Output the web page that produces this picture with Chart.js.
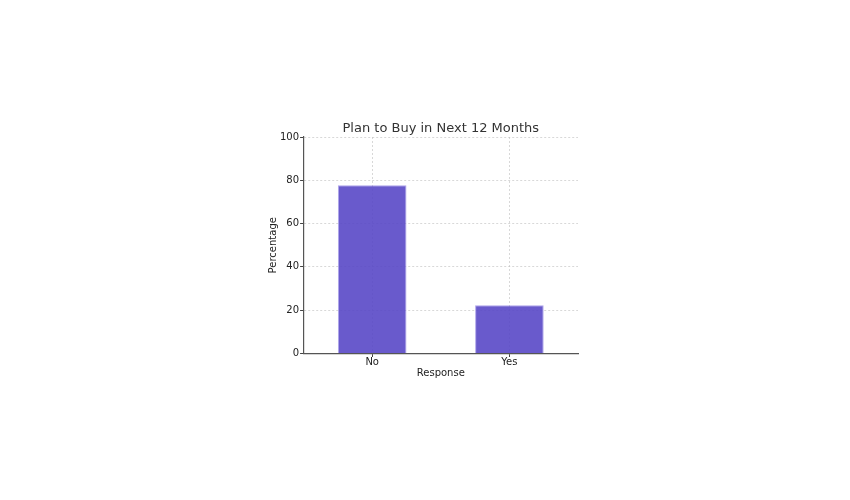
<!DOCTYPE html>
<html><head><meta charset="utf-8">
<script src="https://cdn.jsdelivr.net/npm/chart.js@4"></script>
<style>html,body{margin:0;padding:0;background:#fff;}#wrap{width:850px;height:500px;}</style>
</head><body><div id="wrap"><canvas id="c"></canvas></div>
<script>
const categories = ["No", "Yes"];
const percentages = [77.7, 22.3];
const yTicks = [0, 20, 40, 60, 80, 100];
const chartTitle = 'Plan to Buy in Next 12 Months';

const font = "'DejaVu Sans', sans-serif";
const titlePlugin = {
  id: 'centerTitle',
  afterDraw(chart) {
    const { ctx, chartArea } = chart;
    ctx.save();
    ctx.font = "13px " + font;
    ctx.fillStyle = '#333';
    ctx.textAlign = 'center';
    ctx.textBaseline = 'bottom';
    ctx.fillText(chartTitle, (chartArea.left + chartArea.right) / 2, chartArea.top - 2);
    ctx.restore();
  }
};
new Chart(document.getElementById('c'), {
  type: 'bar',
  data: { labels: categories, datasets: [{ data: percentages, backgroundColor: 'rgba(89,72,199,0.9)', borderColor: 'rgba(140,125,225,0.7)', borderWidth: 1, categoryPercentage: 1, barPercentage: 0.5 }] },
  options: {
    responsive: true, maintainAspectRatio: false, animation: false,
    layout: { padding: { left: 270, right: 272, top: 137, bottom: 121 } },
    plugins: { legend: { display: false }, tooltip: { enabled: false }, title: { display: false } },
    scales: {
      x: { grid: { color: 'rgba(190,190,190,0.6)', tickColor: '#444', tickLength: 3.5, offset: false },
        border: { color: '#555', width: 1.2, dash: [2, 2] },
        ticks: { color: '#222', font: { family: font, size: 10 }, padding: -1 },
        title: { display: true, text: 'Response', color: '#222', font: { family: font, size: 10 }, padding: { top: 0, bottom: 0 } } },
      y: { min: 0, max: 100, afterBuildTicks: s => { s.ticks = yTicks.map(v => ({ value: v })); },
        grid: { color: 'rgba(190,190,190,0.6)', tickColor: '#444', tickLength: 3.5 },
        border: { color: '#555', width: 1.2, dash: [2, 2] },
        ticks: { color: '#222', font: { family: font, size: 10 }, padding: 1 },
        title: { display: true, text: 'Percentage', color: '#222', font: { family: font, size: 10 }, padding: { top: -3, bottom: 0 } } }
    }
  },
  plugins: [titlePlugin]
});
</script></body></html>
